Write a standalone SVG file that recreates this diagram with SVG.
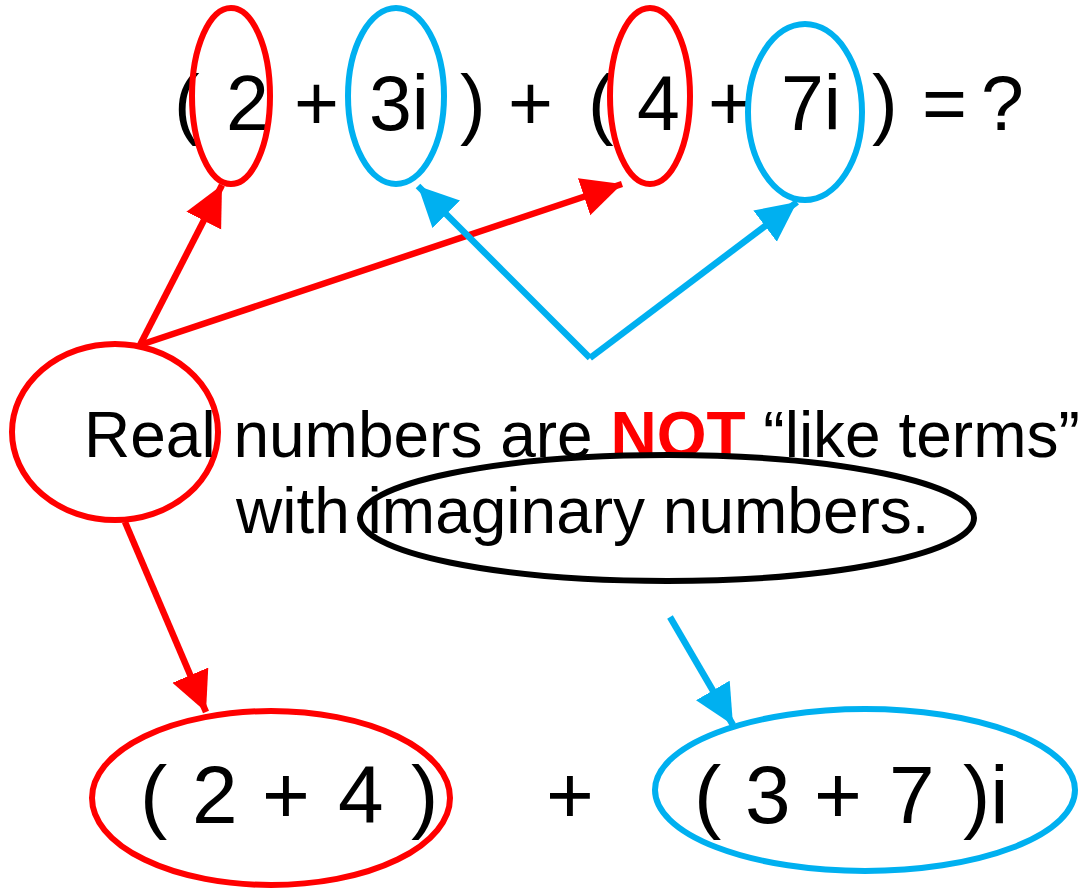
<svg xmlns="http://www.w3.org/2000/svg" width="1080" height="890" viewBox="0 0 1080 890">
<style>
.t{font-family:"Liberation Sans",Arial,sans-serif;fill:#000}
.red{fill:none;stroke:#FF0000;stroke-width:6}
.blue{fill:none;stroke:#00B0F0;stroke-width:6}
.blk{fill:none;stroke:#000;stroke-width:6}
.lr{stroke:#FF0000;stroke-width:6.5;fill:none}
.lb{stroke:#00B0F0;stroke-width:6.5;fill:none}
</style>
<defs>
<marker id="ar" markerUnits="userSpaceOnUse" markerWidth="42" markerHeight="40" refX="40" refY="19.5" orient="auto" viewBox="0 0 42 40"><path d="M0,0 L40,19.5 L0,39 z" fill="#FF0000"/></marker>
<marker id="ab" markerUnits="userSpaceOnUse" markerWidth="42" markerHeight="40" refX="40" refY="19.5" orient="auto" viewBox="0 0 42 40"><path d="M0,0 L40,19.5 L0,39 z" fill="#00B0F0"/></marker>
</defs>
<rect width="1080" height="890" fill="#fff"/>
<g id="equation">
<text class="t" font-size="77" y="130"><tspan x="174">(</tspan> <tspan x="226">2</tspan> <tspan x="294">+</tspan> <tspan x="369">3i</tspan> <tspan x="460">)</tspan> <tspan x="508">+</tspan> <tspan x="588">(</tspan> <tspan x="637">4</tspan> <tspan x="708">+</tspan> <tspan x="781">7i</tspan> <tspan x="872">)</tspan> <tspan x="922">=</tspan> <tspan x="981">?</tspan></text>
</g>
<g id="circle-2"><ellipse class="red" cx="231" cy="96" rx="39" ry="88"/></g>
<g id="circle-3i"><ellipse class="blue" cx="396" cy="96" rx="48" ry="88"/></g>
<g id="circle-4"><ellipse class="red" cx="650" cy="96" rx="40" ry="88"/></g>
<g id="circle-7i"><ellipse class="blue" cx="805" cy="112" rx="57" ry="88"/></g>
<g id="circle-real"><ellipse class="red" cx="115" cy="432" rx="103" ry="88"/></g>
<g id="note">
<text class="t" font-size="64" x="84" y="457">Real numbers are <tspan font-weight="bold" fill="#FF0000">NOT</tspan> “like terms”</text>
<text class="t" font-size="64" x="236" y="533">with imaginary numbers.</text>
</g>
<g id="circle-imaginary"><ellipse class="blk" cx="667" cy="518" rx="307" ry="63"/></g>
<g id="result-real">
<ellipse class="red" cx="271" cy="798" rx="179" ry="87"/>
<text class="t" font-size="82" y="823"><tspan x="140">(</tspan> <tspan x="192">2</tspan> <tspan x="262">+</tspan> <tspan x="338">4</tspan> <tspan x="411">)</tspan></text>
</g>
<g id="plus"><text class="t" font-size="82" x="546" y="823">+</text></g>
<g id="result-imag">
<ellipse class="blue" cx="865" cy="790" rx="210" ry="81"/>
<text class="t" font-size="82" y="823"><tspan x="694">(</tspan> <tspan x="745">3</tspan> <tspan x="814">+</tspan> <tspan x="889">7</tspan> <tspan x="963">)i</tspan></text>
</g>
<g id="connectors">
<line class="lr" x1="140" y1="345" x2="222" y2="185" marker-end="url(#ar)"/>
<line class="lr" x1="140" y1="345" x2="622" y2="184" marker-end="url(#ar)"/>
<line class="lb" x1="590" y1="358" x2="418" y2="186" marker-end="url(#ab)"/>
<line class="lb" x1="590" y1="358" x2="797" y2="202" marker-end="url(#ab)"/>
<line class="lr" x1="125" y1="522" x2="206" y2="712" marker-end="url(#ar)"/>
<line class="lb" x1="670" y1="617" x2="733" y2="725" marker-end="url(#ab)"/>
</g>
</svg>
